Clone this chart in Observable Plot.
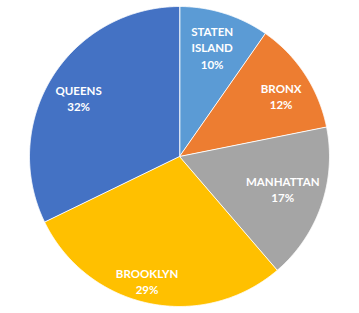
<!DOCTYPE html>
<html><head><meta charset="utf-8">
<script src="https://cdn.jsdelivr.net/npm/d3@7"></script>
<script src="https://cdn.jsdelivr.net/npm/@observablehq/plot@0.6"></script>
<style>html,body{margin:0;padding:0;background:#fff} svg{display:block}</style>
</head><body><div id="chart"></div>
<script>
const boroughs = ["STATEN ISLAND", "BRONX", "MANHATTAN", "BROOKLYN", "QUEENS"];
const shares = [9.7, 12.15, 16.85, 29.1, 32.2];
const pctLabels = ["10%", "12%", "17%", "29%", "32%"];
const colors = ["#5B9BD5", "#ED7D31", "#A5A5A5", "#FFC000", "#4472C4"];

const arcs = d3.pie().sort(null).value(d => d)(shares);
const features = arcs.map((a, i) => {
  const n = Math.max(4, Math.ceil((a.endAngle - a.startAngle) / 0.005));
  const ring = [[0, 0]];
  for (let k = 0; k <= n; k++) {
    const t = a.startAngle + (a.endAngle - a.startAngle) * k / n;
    ring.push([Math.sin(t), Math.cos(t)]);
  }
  ring.push([0, 0]);
  return {type: "Feature", properties: {name: boroughs[i]}, geometry: {type: "Polygon", coordinates: [ring]}};
});
const labelR = 0.77;
const labelData = arcs.map((a, i) => {
  const m = (a.startAngle + a.endAngle) / 2;
  return {x: labelR * Math.sin(m), y: labelR * Math.cos(m), text: boroughs[i].replace(" ", "\n") + "\n" + pctLabels[i]};
});
// pixel nudges to mimic "best fit" label placement
const nudge = [[-2, 1], [5, 3], [-6, -5], [-9, 11], [-3, 3]];

const chart = Plot.plot({
  width: 359,
  height: 313,
  marginLeft: 29,
  marginRight: 30,
  marginTop: 6,
  marginBottom: 7,
  projection: {type: "reflect-y", domain: {type: "MultiPoint", coordinates: [[-1, -1], [1, 1]]}, inset: 0},
  color: {domain: boroughs, range: colors},
  marks: [
    Plot.geo(features, {fill: d => d.properties.name, stroke: "white", strokeWidth: 1, strokeOpacity: 0.9}),
    ...labelData.map((d, i) => Plot.text([d], {x: "x", y: "y", text: "text", dx: nudge[i][0], dy: nudge[i][1], fill: "white", fontWeight: "bold", fontSize: 11.5, fontFamily: "Lato", lineHeight: 1.4}))
  ]
});
document.getElementById("chart").appendChild(chart);
</script>
</body></html>
